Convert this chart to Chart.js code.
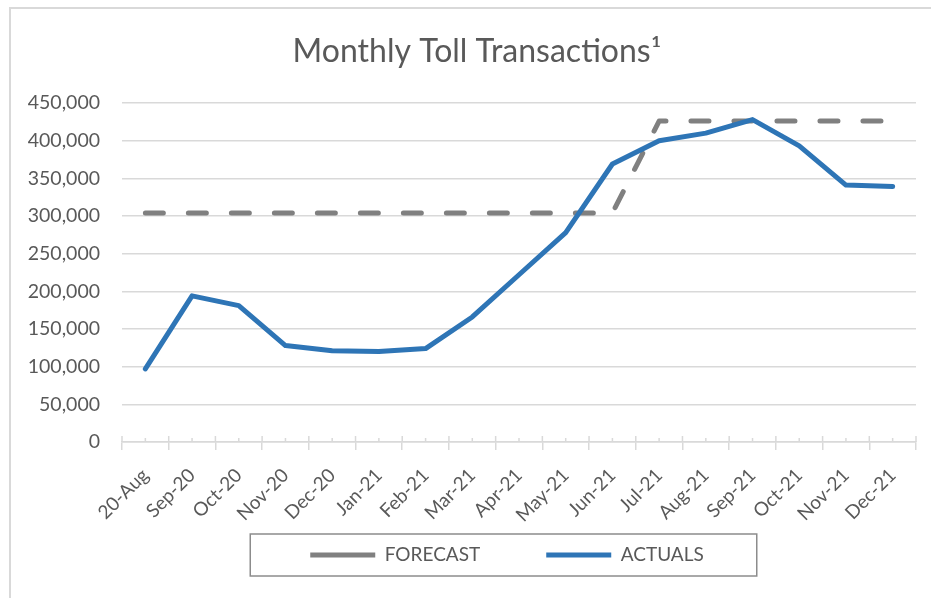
<!doctype html>
<html><head><meta charset="utf-8"><title>Monthly Toll Transactions</title>
<style>
  html, body { margin: 0; padding: 0; background: #fff; }
  #wrap { position: relative; width: 931px; height: 598px; overflow: hidden; }
  #frame { position: absolute; left: 9px; top: 7px; width: 1000px; height: 700px; border: 2px solid #d9d9d9; box-sizing: border-box; }
  #c { position: absolute; left: 0; top: 0; }
</style>
</head>
<body>
<div id="wrap">
  <div id="frame"></div>
  <canvas id="c" width="931" height="598"></canvas>
</div>
<script src="https://cdn.jsdelivr.net/npm/chart.js"></script>
<script>
// months along the x axis
const months = ['20-Aug', 'Sep-20', 'Oct-20', 'Nov-20', 'Dec-20', 'Jan-21', 'Feb-21', 'Mar-21', 'Apr-21',
  'May-21', 'Jun-21', 'Jul-21', 'Aug-21', 'Sep-21', 'Oct-21', 'Nov-21', 'Dec-21']

// values (transactions per month)
const forecast = [304000, 304000, 304000, 304000, 304000, 304000, 304000, 304000, 304000, 304000, 304000,
  426000, 426000, 426000, 426000, 426000, 426000]
const actuals = [97000, 194000, 181000, 128000, 121000, 120000, 124000, 166000, 222000, 278000, 369000,
  400000, 410000, 428000, 393000, 341000, 339000]

const yMax = 450000
const yStep = 50000

const FONT = 'Lato, "Open Sans", sans-serif'
const TXT = '#595959'
const GRID = '#d9d9d9'
const LEGEND_FONT = 19
const LEGEND_PAD = 66

// excel-style tick marks: majors cross the axis, minors sit inside at each category
const axisTicks = {
  id: 'axisTicks',
  afterDraw(chart) {
    const x = chart.scales.x
    const ctx = chart.ctx
    const y0 = x.top
    ctx.save()
    ctx.strokeStyle = GRID
    ctx.lineWidth = 1.5
    ctx.beginPath()
    for (let i = 0; i <= months.length; i++) {
      const px = x.getPixelForValue(i - 0.5)
      ctx.moveTo(px, y0 - 6)
      ctx.lineTo(px, y0)
    }
    for (let i = 0; i < months.length; i++) {
      const px = x.getPixelForValue(i)
      ctx.moveTo(px, y0 - 4)
      ctx.lineTo(px, y0)
    }
    ctx.stroke()
    ctx.restore()
  }
}

// box round the legend + nudge legend/title to where excel put them
// (legend padding is big for the horizontal gap, so pull the row back up)
const legendBox = {
  id: 'legendBox',
  afterLayout(chart) {
    const lg = chart.legend
    lg.left += 49
    lg.right += 49
    lg.top = 555 - LEGEND_PAD - LEGEND_FONT / 2
    const t = chart.titleBlock
    t.left += 19
    t.right += 19
  },
  afterDraw(chart) {
    const hb = chart.legend.legendHitBoxes
    if (!hb || !hb.length) return
    const ctx = chart.ctx
    const first = hb[0], last = hb[hb.length - 1]
    const cy = first.top + first.height / 2
    const l = first.left - 60
    const r = last.left + last.width + 53
    ctx.save()
    ctx.strokeStyle = '#8c8c8c'
    ctx.lineWidth = 1.5
    ctx.strokeRect(l, cy - 21, r - l, 42)
    ctx.restore()
  }
}

const ctx = document.getElementById('c').getContext('2d')
new Chart(ctx, {
  type: 'line',
  data: {
    labels: months,
    datasets: [
      {
        label: 'ACTUALS',
        data: actuals,
        borderColor: '#2e75b6',
        backgroundColor: '#2e75b6',
        borderWidth: 5,
        borderCapStyle: 'round',
        borderJoinStyle: 'round',
        pointRadius: 0,
        tension: 0
      },
      {
        label: 'FORECAST',
        data: forecast,
        borderColor: '#808080',
        backgroundColor: '#808080',
        borderWidth: 5,
        borderDash: [18, 25],
        borderCapStyle: 'round',
        borderJoinStyle: 'round',
        pointRadius: 0,
        tension: 0
      }
    ]
  },
  options: {
    responsive: false,
    animation: false,
    layout: { padding: { left: 0, right: 15, top: 0, bottom: 26 } },
    plugins: {
      tooltip: { enabled: false },
      title: {
        display: true,
        text: 'Monthly Toll Transactions¹',
        color: TXT,
        font: { family: FONT, size: 32, weight: 'normal' },
        padding: { top: 32, bottom: 32.6 }
      },
      legend: {
        position: 'bottom',
        maxHeight: 50,
        labels: {
          sort: (a, b) => b.datasetIndex - a.datasetIndex,
          usePointStyle: true,
          pointStyle: 'line',
          pointStyleWidth: 65,
          padding: LEGEND_PAD,
          color: TXT,
          font: { family: FONT, size: LEGEND_FONT }
        }
      }
    },
    scales: {
      x: {
        offset: true,
        afterFit(s) { s.height = 80 },
        border: { display: true, color: GRID, width: 1.5 },
        grid: { display: true, offset: true, drawOnChartArea: false, drawTicks: true, tickLength: 8, color: GRID, lineWidth: 1.5 },
        ticks: { color: TXT, font: { family: FONT, size: 19 }, minRotation: 45, maxRotation: 45, padding: 14 }
      },
      y: {
        min: 0,
        max: yMax,
        afterFit(s) { s.width = 122 },
        border: { display: false },
        grid: { color: GRID, lineWidth: 1.5, drawTicks: false },
        ticks: {
          stepSize: yStep,
          color: TXT,
          padding: 22,
          font: { family: FONT, size: 19.5 },
          callback: (v) => v.toLocaleString('en-US')
        }
      }
    }
  },
  plugins: [axisTicks, legendBox]
})
</script>
</body></html>
